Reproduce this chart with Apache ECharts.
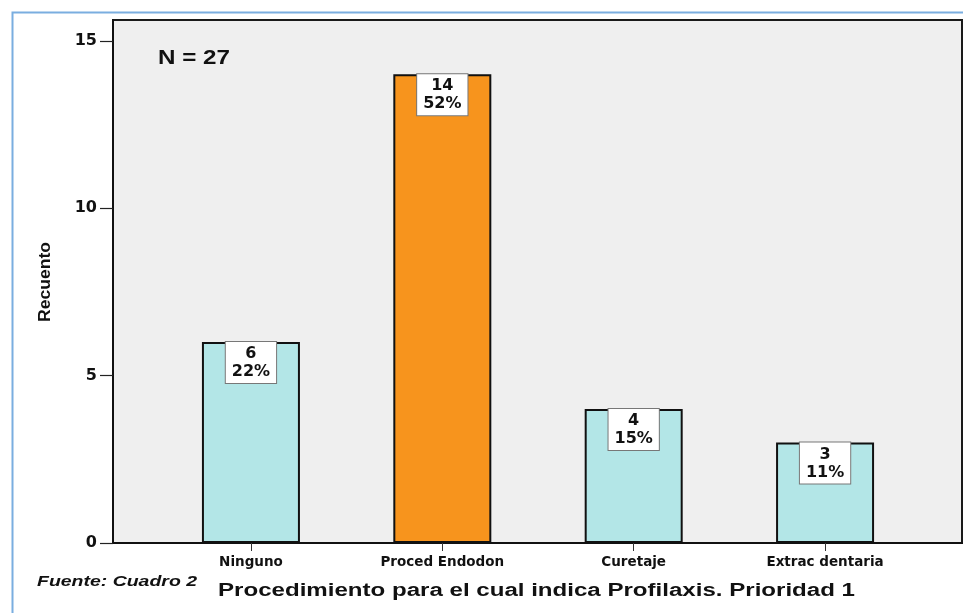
<!DOCTYPE html>
<html>
<head>
<meta charset="utf-8">
<script src="https://cdn.jsdelivr.net/npm/echarts@6/dist/echarts.min.js"></script>
<style>html,body{margin:0;padding:0;background:#fff;}#c{width:963px;height:613px;}</style>
</head>
<body>
<div id="c"></div>
<script>
const categories = ['Ninguno', 'Proced Endodon', 'Curetaje', 'Extrac dentaria'];
const counts = [6, 14, 4, 3];
const percents = ['22%', '52%', '15%', '11%'];
const barColors = ['#b3e6e7', '#f7941d', '#b3e6e7', '#b3e6e7'];
const yTicks = [0, 5, 10, 15];
const yMax = 15.62;

const chart = echarts.init(document.getElementById('c'));
const wide = "'DejaVu Sans', 'Liberation Sans', Arial, sans-serif";

const mctx = document.createElement('canvas').getContext('2d');
function fitText(text, font, left, cy, targetW, rot) {
  mctx.font = font;
  const w = mctx.measureText(text).width;
  const el = {type: 'text', x: left, y: cy, scaleX: targetW / w,
    style: {text: text, fill: '#111', font: font, textAlign: 'left', textVerticalAlign: 'middle'}};
  if (rot) { el.rotation = rot; }
  return el;
}

chart.setOption({
  animation: false,
  backgroundColor: '#fff',
  grid: [
    {left: 113, right: 1, top: 20, bottom: 70, show: true, backgroundColor: '#efefef', borderColor: '#1a1a1a', borderWidth: 2},
    {left: 155.25, right: 42.25, top: 20, bottom: 70}
  ],
  xAxis: [
    {gridIndex: 0, type: 'value', min: 0, max: 1, axisLine: {show: true, onZero: false, lineStyle: {color: '#111', width: 2}}, axisTick: {show: false}, axisLabel: {show: false}, splitLine: {show: false}},
    {gridIndex: 1, type: 'category', data: categories,
      axisLine: {show: false}, axisTick: {show: true, alignWithLabel: true, length: 8, inside: false, lineStyle: {color: '#333', width: 1}},
      axisLabel: {margin: 12, color: '#111', fontWeight: 'bold', fontSize: 13.5, fontFamily: wide}, splitLine: {show: false}}
  ],
  yAxis: [
    {gridIndex: 0, type: 'value', min: 0, max: yMax, interval: 5,
      axisLine: {show: true, lineStyle: {color: '#111', width: 2}},
      axisTick: {show: true, length: 13, lineStyle: {color: '#222', width: 1.2}, customValues: yTicks},
      axisLabel: {margin: 16, color: '#111', fontWeight: 'bold', fontSize: 16, fontFamily: wide,
        customValues: yTicks,
        formatter: v => (yTicks.indexOf(v) >= 0 ? String(v) : '')},
      splitLine: {show: false}},
    {gridIndex: 1, type: 'value', min: 0, max: yMax, show: false, splitLine: {show: false}}
  ],
  series: [{
    type: 'bar', xAxisIndex: 1, yAxisIndex: 1, barWidth: 98,
    data: counts.map((v, i) => ({value: v, itemStyle: {color: barColors[i], borderColor: '#111', borderWidth: 2}})),
    label: {
      show: true, position: 'insideTop', distance: 0,
      formatter: p => counts[p.dataIndex] + '\n' + percents[p.dataIndex],
      backgroundColor: '#fff', borderColor: '#777', borderWidth: 1,
      padding: [3, 6, 2, 6], color: '#111', fontWeight: 'bold', fontSize: 16, lineHeight: 18, fontFamily: wide, align: 'center'
    }
  }],
  graphic: [
    {type: 'rect', left: 10, top: 10, shape: {width: 1000, height: 700}, style: {fill: 'none', stroke: '#7aaee0', lineWidth: 2}, z: -1},
    fitText('Recuento', "bold 16px 'Liberation Sans', Arial, sans-serif", 46, 322, 80, Math.PI / 2),
    fitText('N = 27', "bold 20px 'Liberation Sans', Arial, sans-serif", 158, 58, 72),
    fitText('Fuente: Cuadro 2', "italic bold 15px 'Liberation Sans', Arial, sans-serif", 37, 582, 160),
    fitText('Procedimiento para el cual indica Profilaxis. Prioridad 1', "bold 18px 'Liberation Sans', Arial, sans-serif", 218, 591, 637)
  ]
});
</script>
</body>
</html>
